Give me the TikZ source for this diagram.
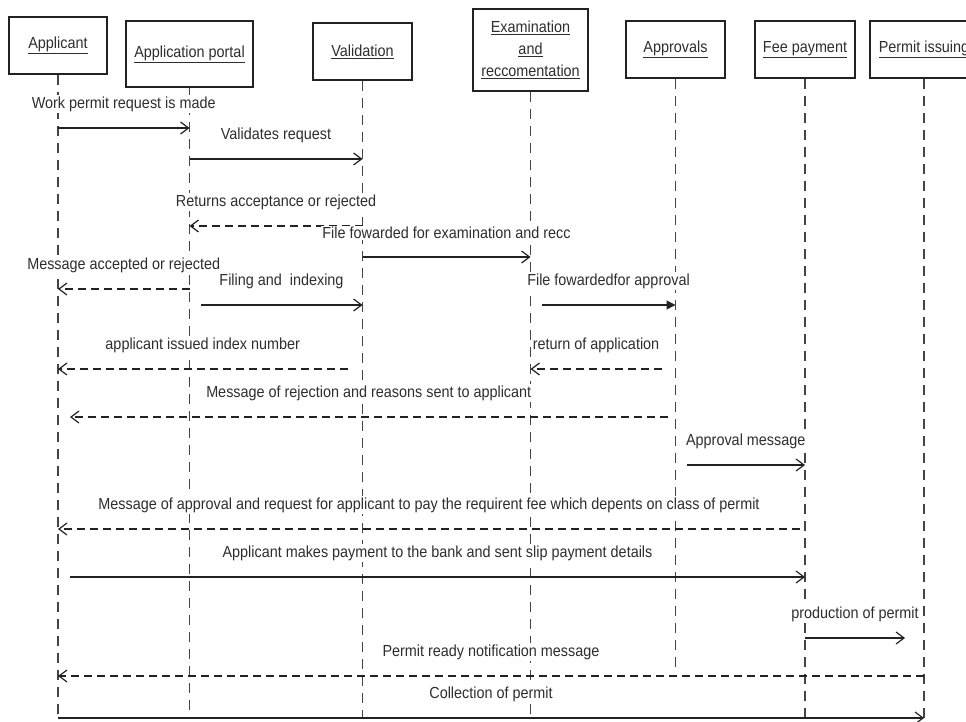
\documentclass[tikz,border=0pt]{standalone}
\usepackage{fontspec}
\setmainfont{Liberation Sans}[FakeStretch=0.9]
\usetikzlibrary{arrows.meta,calc}
\definecolor{ink}{HTML}{222222}
\definecolor{txt}{HTML}{2E2E2E}
\definecolor{lifegray}{HTML}{444444}
\begin{document}
\begin{tikzpicture}[x=1pt,y=-1pt,
  font=\fontsize{16}{22}\selectfont,
  actor/.style={draw=ink, line width=1.4pt, fill=white, align=center, text=txt, inner sep=0pt},
  lifeline/.style={draw=lifegray, line width=1.5pt, dash pattern=on 10pt off 7pt},
  sync/.style={draw=ink, line width=1.2pt, -{Straight Barb[length=8pt,width=12pt]}},
  reply/.style={sync, dash pattern=on 8pt off 5pt},
  filled/.style={draw=ink, line width=1.2pt, -{Triangle[length=9pt,width=9pt]}},
  lbl/.style={midway, yshift=24pt, text=txt, fill=white, inner sep=1.5pt}
]
\useasboundingbox (0,0) rectangle (966,722);
\clip (0,0) rectangle (966,722);

% participants
\node[actor, minimum width=98pt,  minimum height=57pt] (A) at (58,45.5)   {\underline{Applicant}};
\node[actor, minimum width=127pt, minimum height=66pt] (P) at (189.5,54)  {\underline{Application portal}};
\node[actor, minimum width=99pt,  minimum height=57pt] (V) at (362.5,51.5) {\underline{Validation}};
\node[actor, minimum width=115pt, minimum height=82pt] (E) at (530.5,50)  {\underline{Examination}\\\underline{and}\\\underline{reccomentation}};
\node[actor, minimum width=99pt,  minimum height=57pt] (R) at (675.5,49.5) {\underline{Approvals}};
\node[actor, minimum width=100pt, minimum height=57pt] (F) at (805,49.5)  {\underline{Fee payment}};
\node[actor, minimum width=108pt, minimum height=57pt] (I) at (924,49.5)  {\underline{Permit issuing}};

% lifelines
\draw[lifeline] (A.south) -- (A |- 0,718);
\draw[lifeline] (P.south) -- (P |- 0,718);
\draw[lifeline] (V.south) -- (V |- 0,718);
\draw[lifeline] (E.south) -- (E |- 0,718);
\draw[lifeline] (R.south) -- (R |- 0,672);
\draw[lifeline] (F.south) -- (F |- 0,718);
\draw[lifeline] (I.south) -- (I |- 0,718);

% messages
\draw[sync]  (A |- 0,128) -- (P |- 0,128) node[lbl] {Work permit request is made};
\draw[sync]  (P |- 0,159) -- (V |- 0,159) node[lbl] {Validates request};
\draw[reply] (V |- 0,226) -- (P |- 0,226) node[lbl] {Returns acceptance or rejected};
\draw[sync]  (V |- 0,257) -- (E |- 0,257) node[lbl] {File fowarded for examination and recc};
\draw[reply] (P |- 0,289) -- (A |- 0,289) node[lbl] {Message accepted or rejected};
\draw[sync]  ($(P |- 0,305)+(11,0)$) -- (V |- 0,305) node[lbl] {Filing and~ indexing};
\draw[filled] ($(E |- 0,305)+(11,0)$) -- (R |- 0,305) node[lbl] {File fowardedfor approval};
\draw[reply] ($(V |- 0,369)+(-15,0)$) -- (A |- 0,369) node[lbl] {applicant issued index number};
\draw[reply] ($(R |- 0,369)+(-14,0)$) -- (E |- 0,369) node[lbl] {return of application};
\draw[reply] ($(R |- 0,417)+(-8,0)$) -- ($(A |- 0,417)+(12,0)$) node[lbl] {Message of rejection and reasons sent to applicant};
\draw[sync]  ($(R |- 0,465)+(11,0)$) -- (F |- 0,465) node[lbl] {Approval message};
\draw[reply] ($(F |- 0,529)+(-5,0)$) -- (A |- 0,529) node[lbl] {Message of approval and request for applicant to pay the requirent fee which depents on class of permit};
\draw[sync]  ($(A |- 0,577)+(12,0)$) -- (F |- 0,577) node[lbl] {Applicant makes payment to the bank and sent slip payment details};
\draw[sync]  (F |- 0,638) -- ($(I |- 0,638)+(-19,0)$) node[lbl] {production of permit};
\draw[reply] (I |- 0,676) -- (A |- 0,676) node[lbl] {Permit ready notification message};
\draw[sync]  (A |- 0,718) -- (I |- 0,718) node[lbl] {Collection of permit};
\end{tikzpicture}
\end{document}
